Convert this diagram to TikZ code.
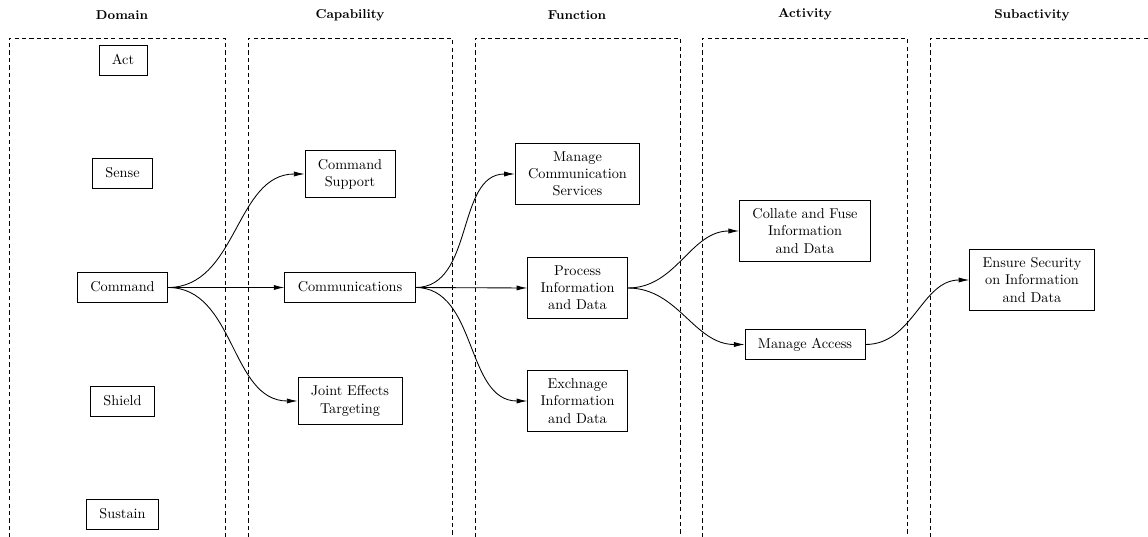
\documentclass[tikz,border=0pt]{standalone}
\usetikzlibrary{arrows.meta}
\begin{document}
\begin{tikzpicture}[x=0.7pt,y=-0.7pt,
  box/.style={draw,semithick,align=center,inner xsep=9pt,inner ysep=6pt,font=\normalsize},
  onebox/.style={box,text height=7pt,text depth=2pt},
  head/.style={font=\small\bfseries},
  lane/.style={draw,dash pattern=on 3pt off 2.2pt,semithick},
  link/.style={-{Latex[length=7.5pt,width=3.6pt]},semithick}]
\useasboundingbox (0,0) rectangle (1148,537);
\begin{scope}
\clip (0,0) rectangle (1148,537);
% lanes
\draw[lane] (9,545) -- (9,38) -- (225,38) -- (225,545);
\draw[lane] (248,545) -- (248,38) -- (452,38) -- (452,545);
\draw[lane] (475,545) -- (475,38) -- (680,38) -- (680,545);
\draw[lane] (702,545) -- (702,38) -- (907,38) -- (907,545);
\draw[lane] (930,545) -- (930,38) -- (1160,38);
\end{scope}
% headings
\node[head] (h1) at (122,15) {Domain};
\node[head] (h2) at (350,15) {Capability};
\node[head] (h3) at (577,15) {Function};
\node[head] (h4) at (805,14) {Activity};
\node[head] (h5) at (1032,15) {Subactivity};
% domain
\node[onebox] (act) at (123,60.5) {Act};
\node[onebox] (sense) at (122.5,173.5) {Sense};
\node[onebox] (command) at (122.5,287.5) {Command};
\node[onebox] (shield) at (122.5,401.5) {Shield};
\node[onebox] (sustain) at (122.5,514.5) {Sustain};
% capability
\node[box] (cs) at (350,174) {Command\\Support};
\node[onebox] (comm) at (350,287.5) {Communications};
\node[box] (jet) at (350,401) {Joint Effects\\Targeting};
% function
\node[box] (mcs) at (577.5,174) {Manage\\Communication\\Services};
\node[box] (pid) at (577.5,288) {Process\\Information\\and Data};
\node[box] (eid) at (577.5,401) {Exchnage\\Information\\and Data};
% activity
\node[box] (cfi) at (805,231) {Collate and Fuse\\Information\\and Data};
\node[onebox] (ma) at (805,344.5) {Manage Access};
% subactivity
\node[box] (es) at (1032,280) {Ensure Security\\on Information\\and Data};
% links
\draw[link] (command.east) to[out=0,in=180] (cs.west);
\draw[link] (command.east) -- (comm.west);
\draw[link] (command.east) to[out=0,in=180] (jet.west);
\draw[link] (comm.east) to[out=0,in=180] (mcs.west);
\draw[link] (comm.east) -- (pid.west);
\draw[link] (comm.east) to[out=0,in=180] (eid.west);
\draw[link] (pid.east) to[out=0,in=180] (cfi.west);
\draw[link] (pid.east) to[out=0,in=180] (ma.west);
\draw[link] (ma.east) to[out=0,in=180] (es.west);
\end{tikzpicture}
\end{document}
